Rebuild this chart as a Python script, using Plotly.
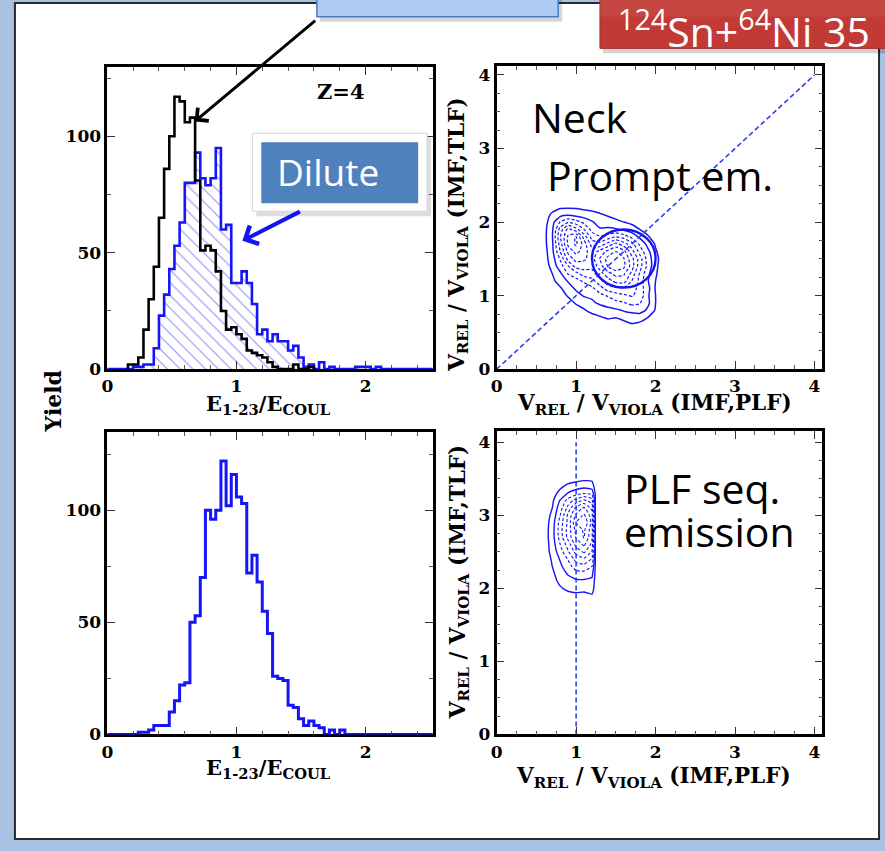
import numpy as np
import plotly.graph_objects as go

W, H = 885, 851

# ---------------- E_{1-23}/E_COUL histograms (bins of 0.04 starting at 0) ----------------
bin_width = 0.04
# Z=4, upper panel: black selection
counts_black = [0, 0, 0, 0, 2, 2, 5, 17, 30, 44, 65, 86, 100, 117, 115, 106, 108, 81, 51, 53,
                51, 42, 25, 17, 18, 15, 13, 8, 7, 6, 5, 3, 1, 0, 0, 0, 2, 0, 0, 1,
                0, 0, 0, 0, 0, 0, 0, 0, 0, 0, 0, 0, 0, 0, 0, 0, 0, 0, 0, 0, 0, 0, 0]
# Z=4, upper panel: dilute selection (hatched)
counts_dilute = [0, 0, 0, 0, 0, 1, 1, 2, 2, 9, 23, 32, 43, 53, 63, 80, 80, 93, 82, 79,
                 82, 95, 60, 62, 37, 37, 42, 37, 28, 15, 17, 12, 15, 12, 12, 8, 10, 5, 1, 2,
                 0, 3, 0, 1, 0, 0, 0, 0, 1, 1, 1, 0, 1, 0, 0, 0, 0, 0, 0, 0, 0, 0, 0]
# lower panel
counts_lower = [0, 0, 0, 0, 0, 0, 1, 1, 2, 4, 4, 4, 10, 15, 22, 23, 50, 53, 70, 100,
                96, 100, 122, 102, 116, 106, 103, 72, 80, 68, 55, 45, 26, 25, 24, 13, 12, 7, 4, 6,
                4, 3, 0, 2, 0, 2, 0, 0, 0, 0, 0, 0, 0, 0, 0, 0, 0, 0, 0, 0, 0, 0, 0]

# ---------------- V_rel/V_viola correlation maps ----------------
# upper map: yields on a grid, x = (IMF,PLF), y = (IMF,TLF)
neck_x = [0.5, 0.6, 0.7, 0.8, 0.9, 1.0, 1.1, 1.2, 1.3, 1.4, 1.5, 1.6, 1.7, 1.8, 1.9, 2.0, 2.1, 2.2]
neck_y = [0.5, 0.6, 0.7, 0.8, 0.9, 1.0, 1.1, 1.2, 1.3, 1.4, 1.5, 1.6, 1.7, 1.8, 1.9, 2.0, 2.1, 2.2, 2.3]
neck_z = [
    [0, 0, 0, 0, 0, 0, 0, 0, 0, 0, 0, 0, 0, 0, 0, 0, 0, 0],
    [0, 0, 0, 0, 0, 0, 0, 0, 0, 0, 0.1, 0.2, 0.4, 0.3, 0.1, 0, 0, 0],
    [0, 0, 0, 0, 0, 0, 0, 0.1, 0.4, 0.6, 0.5, 0.7, 0.9, 0.8, 0.5, 0.2, 0, 0],
    [0, 0, 0, 0, 0, 0.1, 0.4, 0.8, 0.9, 1.2, 1.3, 1.6, 1.8, 2.0, 1.3, 0.4, 0, 0],
    [0, 0, 0, 0, 0.1, 0.6, 0.9, 1.3, 1.7, 1.9, 2.3, 2.5, 2.9, 2.7, 1.8, 0.5, 0, 0],
    [0, 0, 0, 0.1, 0.6, 1.1, 1.6, 1.7, 2.3, 2.7, 3.2, 3.5, 3.8, 3.4, 1.7, 0.5, 0, 0],
    [0, 0, 0.1, 0.4, 1.0, 1.7, 2.0, 2.4, 3.2, 4.3, 4.6, 4.7, 4.4, 3.2, 1.9, 0.4, 0, 0],
    [0, 0, 0.3, 0.9, 1.6, 2.2, 2.8, 3.3, 4.5, 5.4, 6.3, 6.4, 4.8, 3.4, 1.6, 0.5, 0, 0],
    [0, 0, 0.5, 1.3, 2.7, 3.3, 4.3, 4.4, 5.4, 6.6, 7.4, 7.2, 5.6, 3.6, 1.8, 0.6, 0, 0],
    [0, 0, 0.8, 2.1, 3.6, 5.3, 5.3, 5.1, 6.4, 8.2, 9.1, 8.4, 6.5, 4.2, 2.3, 0.7, 0, 0],
    [0, 0.1, 1.0, 2.7, 5.3, 6.3, 6.1, 5.4, 7.1, 8.5, 9.4, 8.2, 6.3, 4.3, 2.1, 0.8, 0, 0],
    [0, 0.1, 1.2, 3.7, 6.2, 7.4, 6.4, 5.2, 6.3, 7.3, 8.1, 7.4, 5.3, 3.3, 1.8, 0.6, 0, 0],
    [0, 0.2, 1.3, 4.2, 7.3, 8.3, 6.5, 4.3, 4.1, 5.2, 6.3, 5.3, 4.2, 2.4, 1.2, 0.4, 0, 0],
    [0, 0.2, 1.4, 4.7, 7.2, 8.2, 5.4, 3.2, 2.7, 3.1, 3.7, 3.2, 2.3, 1.3, 0.6, 0.1, 0, 0],
    [0, 0.2, 1.3, 4.2, 6.3, 5.2, 3.7, 2.2, 1.6, 1.7, 1.6, 1.3, 0.9, 0.5, 0.2, 0, 0, 0],
    [0, 0.1, 1.1, 2.7, 3.6, 3.1, 2.3, 1.6, 1.1, 0.9, 0.7, 0.5, 0.3, 0.1, 0, 0, 0, 0],
    [0, 0, 0.7, 1.1, 1.3, 1.1, 0.9, 0.8, 0.6, 0.4, 0.2, 0.1, 0, 0, 0, 0, 0, 0],
    [0, 0, 0.1, 0.4, 0.4, 0.4, 0.3, 0.2, 0.1, 0, 0, 0, 0, 0, 0, 0, 0, 0],
    [0, 0, 0, 0, 0, 0, 0, 0, 0, 0, 0, 0, 0, 0, 0, 0, 0, 0],
]
# circular gate on the upper map (centre, radii)
gate_center = (1.6, 1.505)
gate_radius = (0.40, 0.395)

# lower map: PLF sequential emission
seq_x = [0.6, 0.7, 0.8, 0.9, 1.0, 1.1, 1.2, 1.25]
seq_y = [1.8, 1.9, 2.0, 2.1, 2.2, 2.3, 2.4, 2.5, 2.6, 2.7, 2.8, 2.9, 3.0, 3.1, 3.2, 3.3, 3.4, 3.5, 3.6]
seq_z = [
    [0, 0, 0, 0, 0, 0, 0, 0],
    [0, 0, 0.1, 0.2, 0.3, 0.3, 0.4, 0],
    [0, 0.1, 0.4, 0.7, 0.8, 0.7, 0.9, 0],
    [0, 0.2, 0.7, 1.1, 1.3, 1.3, 1.2, 0],
    [0, 0.3, 1.0, 1.6, 2.1, 2.2, 1.8, 0],
    [0, 0.5, 1.3, 2.1, 3.2, 3.3, 2.6, 0],
    [0, 0.6, 1.6, 2.7, 4.1, 4.6, 3.6, 0],
    [0, 0.8, 2.1, 3.6, 5.2, 6.1, 4.7, 0],
    [0, 0.9, 2.6, 4.2, 6.3, 7.2, 5.6, 0],
    [0, 1.0, 3.1, 5.2, 7.1, 8.2, 6.1, 0],
    [0, 1.0, 3.2, 5.3, 7.3, 8.3, 6.3, 0],
    [0, 0.9, 3.1, 5.1, 8.1, 9.2, 6.6, 0],
    [0, 0.7, 2.6, 5.1, 7.2, 8.3, 6.4, 0],
    [0, 0.5, 2.1, 4.1, 6.2, 7.2, 5.6, 0],
    [0, 0.3, 1.6, 3.1, 4.2, 5.1, 4.3, 0],
    [0, 0.1, 0.8, 1.6, 2.2, 2.6, 2.3, 0],
    [0, 0, 0.3, 0.7, 0.9, 1.1, 0.9, 0],
    [0, 0, 0, 0.1, 0.2, 0.3, 0.3, 0],
    [0, 0, 0, 0, 0, 0, 0, 0],
]

# reference lines: V(IMF,TLF) = V(IMF,PLF) and V(IMF,PLF) = 1
diag_line = [0, 4]
plf_line_x = 1
plf_line_y = [0, 4]

BLUE = "#1515f5"
LINE_BLUE = "#2a3ff0"
SERIF = "DejaVu Serif, serif"
SANS = "Open Sans, sans-serif"


def px(x):
    return x / W


def py(y):
    return 1 - y / H


def step_path(counts, trim=False):
    edges = np.arange(len(counts) + 1) * bin_width
    nz = [i for i, c in enumerate(counts) if c > 0]
    first, last = (nz[0], nz[-1]) if trim else (0, len(counts) - 1)
    xs = [edges[first]] + list(edges[first:last + 1]) + [edges[last + 1]]
    ys = [0] + list(counts[first:last + 1]) + [0]
    return xs, ys


fig = go.Figure()

# upper-left: dilute (hatched) and black histograms
xd, yd = step_path(counts_dilute)
fig.add_trace(go.Scatter(
    x=xd, y=yd, mode="lines", line=dict(color=BLUE, width=2.6, shape="hv"),
    fill="tozeroy", fillcolor="rgba(0,0,0,0)",
    fillpattern=dict(shape="\\", fgcolor="#2a2af2", bgcolor="rgba(0,0,0,0)", size=9, solidity=0.13),
    xaxis="x", yaxis="y", hoverinfo="skip", showlegend=False))
xb, yb = step_path(counts_black, trim=True)
fig.add_trace(go.Scatter(
    x=xb, y=yb, mode="lines", line=dict(color="black", width=2.6, shape="hv"),
    xaxis="x", yaxis="y", hoverinfo="skip", showlegend=False))

# lower-left histogram
xl, yl = step_path(counts_lower)
fig.add_trace(go.Scatter(
    x=xl, y=yl, mode="lines", line=dict(color=BLUE, width=3, shape="hv"),
    xaxis="x3", yaxis="y3", hoverinfo="skip", showlegend=False))

# upper-right map
fig.add_trace(go.Scatter(
    x=diag_line, y=diag_line, mode="lines", line=dict(color=LINE_BLUE, width=1.6, dash="5px,3px"),
    xaxis="x2", yaxis="y2", hoverinfo="skip", showlegend=False))
blue_scale = [[0, BLUE], [1, BLUE]]
fig.add_trace(go.Contour(
    x=neck_x, y=neck_y, z=neck_z, xaxis="x2", yaxis="y2", autocontour=False,
    contours=dict(coloring="lines", start=0.5, end=1.5, size=1),
    line=dict(width=1.5, smoothing=0.4), colorscale=blue_scale, showscale=False, hoverinfo="skip"))
fig.add_trace(go.Contour(
    x=neck_x, y=neck_y, z=neck_z, xaxis="x2", yaxis="y2", autocontour=False,
    contours=dict(coloring="lines", start=2.6, end=9.0, size=1.1),
    line=dict(width=1.2, dash="3px,2px", smoothing=0.4), colorscale=blue_scale, showscale=False,
    hoverinfo="skip"))

# lower-right map
fig.add_trace(go.Scatter(
    x=[plf_line_x, plf_line_x], y=plf_line_y, mode="lines", line=dict(color=LINE_BLUE, width=1.6, dash="5px,3px"),
    xaxis="x4", yaxis="y4", hoverinfo="skip", showlegend=False))
fig.add_trace(go.Contour(
    x=seq_x, y=seq_y, z=seq_z, xaxis="x4", yaxis="y4", autocontour=False,
    contours=dict(coloring="lines", start=0.5, end=1.5, size=1),
    line=dict(width=1.4, smoothing=0.4), colorscale=blue_scale, showscale=False, hoverinfo="skip"))
fig.add_trace(go.Contour(
    x=seq_x, y=seq_y, z=seq_z, xaxis="x4", yaxis="y4", autocontour=False,
    contours=dict(coloring="lines", start=2.6, end=9.0, size=1.1),
    line=dict(width=1.1, dash="3px,2px", smoothing=0.4), colorscale=blue_scale, showscale=False,
    hoverinfo="skip"))

tickfont = dict(family=SERIF, size=17, color="black", weight="bold")


def axis(domain, rng, dtick, minor_dtick, anchor, layer="above traces"):
    return dict(domain=domain, range=rng, anchor=anchor, showline=True, linewidth=2.6, linecolor="black",
                mirror="allticks", ticks="inside", ticklen=8, tickwidth=1.4, tickcolor="#333",
                tickmode="linear", tick0=0, dtick=dtick,
                minor=dict(ticks="inside", ticklen=4, tickwidth=1.1, tickcolor="#555", tick0=0, dtick=minor_dtick),
                showgrid=False, zeroline=False, tickfont=tickfont, fixedrange=True, layer=layer)


left_x = [px(102), px(430)]
right_x = [px(494), px(822)]
top_y = [py(373), py(67)]
bot_y = [py(743), py(437)]

fig.update_layout(
    width=W, height=H, margin=dict(l=0, r=0, t=0, b=0),
    paper_bgcolor="#a9c2e4", plot_bgcolor="white", showlegend=False,
    xaxis=axis(left_x, [0, 2.523], 1, 0.2, "y", layer="below traces"),
    yaxis=axis(top_y, [0, 129.7], 50, 25, "x"),
    xaxis3=axis(left_x, [0, 2.523], 1, 0.2, "y3", layer="below traces"),
    yaxis3=axis(bot_y, [0, 134.8], 50, 25, "x3"),
    xaxis2=axis(right_x, [0, 4.1], 1, 0.25, "y2"),
    yaxis2=axis([py(373), py(66)], [0, 4.12], 1, 0.25, "x2"),
    xaxis4=axis(right_x, [0, 4.1], 1, 0.25, "y4"),
    yaxis4=axis([py(743), py(436)], [0, 4.15], 1, 0.25, "x4"),
)


def rect(x0, y0, x1, y1, fill, line=None, lw=0, layer="above"):
    return dict(type="rect", xref="paper", yref="paper", x0=px(x0), x1=px(x1), y0=py(y1), y1=py(y0),
                fillcolor=fill, line=dict(color=line or "rgba(0,0,0,0)", width=lw), layer=layer)


shapes = [
    # slide body
    rect(9, 2, 879, 849, "white", "#2a2a2a", 2, layer="below"),
    # caption box at top (shadow + box)
    rect(316, -5, 560, 21, "rgba(0,0,0,0.16)"),
    rect(313, -5, 556, 16, "#afcaf4", "#4a7dc0", 1.5),
    # reaction label box
    rect(601, -5, 890, 53, "rgba(0,0,0,0.18)"),
    rect(598, -5, 890, 48, "#c23a35", "#a8302b", 1),
    rect(598, -5, 890, 16, "rgba(255,255,255,0.06)"),
    # "Dilute" callout
    rect(252, 138, 428, 218, "rgba(0,0,0,0.13)"),
    rect(248, 134, 424, 213, "white", "#d4d4d4", 1),
    rect(257, 143, 415, 205, "#4f81bd"),
    # circular gate
    dict(type="circle", xref="x2", yref="y2",
         x0=gate_center[0] - gate_radius[0], x1=gate_center[0] + gate_radius[0],
         y0=gate_center[1] - gate_radius[1], y1=gate_center[1] + gate_radius[1],
         line=dict(color=BLUE, width=2.4), layer="above"),
]
fig.update_layout(shapes=shapes)

ann = []


def text(x, y, s, size, family=SANS, color="black", xanchor="center", yanchor="middle", angle=0, weight="normal"):
    ann.append(dict(x=px(x), y=py(y), xref="paper", yref="paper", text=s, showarrow=False,
                    xanchor=xanchor, yanchor=yanchor, textangle=angle,
                    font=dict(family=family, size=size, color=color, weight=weight)))


text(614, 28, "<sup>124</sup>Sn+<sup>64</sup>Ni 35", 41, color="white", xanchor="left")
text(324, 173, "Dilute", 37, color="white")
text(337, 92, "Z=4", 21, family=SERIF, weight="bold")
text(528, 118, "Neck", 41, xanchor="left")
text(543, 176, "Prompt em.", 41, xanchor="left")
text(620, 493, "PLF seq.", 41, xanchor="left")
text(620, 537, "emission", 41, xanchor="left")

e_title = "E<sub>1-23</sub>/E<sub>COUL</sub>"
text(264, 409, e_title, 21, family=SERIF, weight="bold")
text(264, 778, e_title, 21, family=SERIF, weight="bold")
text(47, 406, "Yield", 22, family=SERIF, weight="bold", angle=-90)

vx = "V<sub>REL</sub> / V<sub>VIOLA</sub> (IMF,PLF)"
vy = "V<sub>REL</sub> / V<sub>VIOLA</sub> (IMF,TLF)"
text(653, 409, vx, 21.5, family=SERIF, weight="bold")
text(652, 787, vx, 21.5, family=SERIF, weight="bold")
text(456, 236, vy, 21.5, family=SERIF, weight="bold", angle=-90)
text(456, 588, vy, 21.5, family=SERIF, weight="bold", angle=-90)

# arrows
ann.append(dict(x=px(190), y=py(122), xref="paper", yref="paper", ax=122, ay=-102, text="",
                showarrow=True, arrowhead=4, arrowsize=1.1, arrowwidth=3, arrowcolor="black"))
ann.append(dict(x=px(238), y=py(243), xref="paper", yref="paper", ax=59, ay=-30, text="",
                showarrow=True, arrowhead=4, arrowsize=1.0, arrowwidth=4, arrowcolor="#1414ee"))

fig.update_layout(annotations=ann)

fig.write_html("out.html", config={"displayModeBar": False})
